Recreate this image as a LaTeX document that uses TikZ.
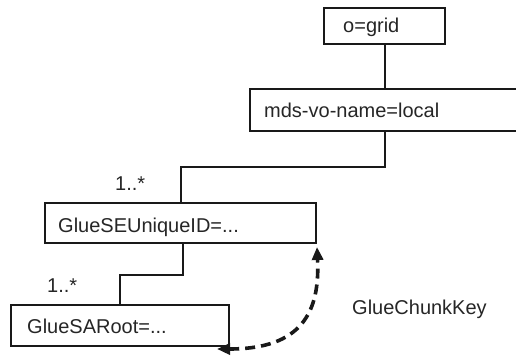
\documentclass[tikz,border=0pt]{standalone}
\usepackage{fontspec}
\setmainfont{Liberation Sans}
\usetikzlibrary{arrows.meta}
\begin{document}
\begin{tikzpicture}[x=1pt,y=-1pt,
  box/.style={draw=black!90, line width=2pt, inner sep=0pt, anchor=north west},
  txt/.style={anchor=base west, inner sep=0pt, font=\fontsize{20}{24}\selectfont, text=black!85},
  link/.style={draw=black!90, line width=2pt},
  chunk/.style={line width=3.6pt, dash pattern=on 10pt off 6pt, draw=black!90,
    {Triangle[length=13pt,width=11pt]}-{Triangle[length=13pt,width=11pt]}}]
\useasboundingbox (0,0) rectangle (516,356);
\fill[white] (0,0) rectangle (516,356);
% boxes
\node[box, minimum width=121pt, minimum height=36pt] (grid) at (323,7) {};
\node[box, minimum width=270pt, minimum height=42pt] (mds) at (249,88) {};
\node[box, minimum width=271pt, minimum height=40pt] (se) at (44,202) {};
\node[box, minimum width=218pt, minimum height=41pt] (sa) at (10,304) {};
% texts
\node[txt] (gridT) at (343,32) {o=grid};
\node[txt] (mdsT) at (264,117) {mds-vo-name=local};
\node[txt] (seT) at (58,232) {GlueSEUniqueID=...};
\node[txt] (saT) at (27,333) {GlueSARoot=...};
\node[txt] (m1) at (115,190) {1..*};
\node[txt] (m2) at (47,292) {1..*};
\node[txt] (key) at (352,314) {GlueChunkKey};
% connectors
\draw[link] (grid.south) -- (grid.south |- mds.north);
\draw[link] (mds.south) -- ++(0,35) -| (se.north);
\draw[link] ([xshift=2pt]se.south) -- ++(0,31) -| (sa.north);
% chunk key reference
\coordinate (tipA) at ([yshift=-3pt]se.south east);
\coordinate (tipB) at ([xshift=-13pt,yshift=-2pt]sa.south east);
\draw[chunk] (tipB) .. controls +(85,0) and +(3,65) .. (tipA);
\end{tikzpicture}
\end{document}
